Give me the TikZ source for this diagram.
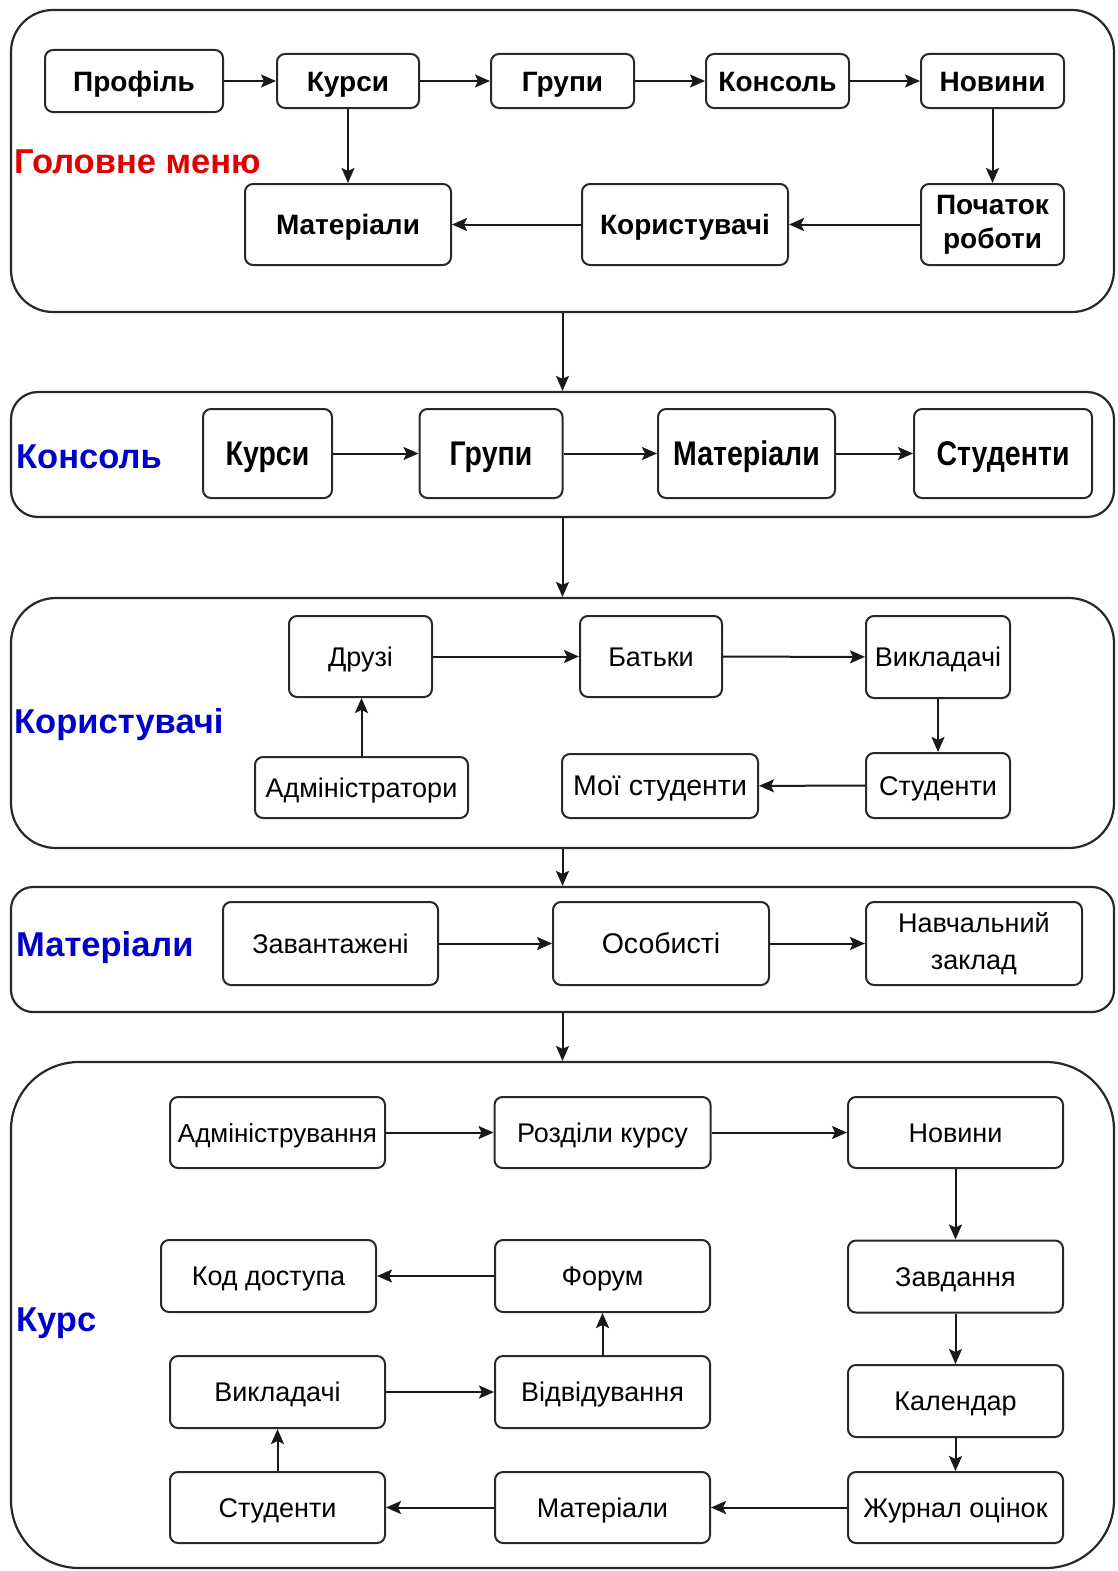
\documentclass[tikz,border=0pt]{standalone}
\usepackage{fontspec}
\setmainfont{Liberation Sans}
\usepackage{graphicx}
\usetikzlibrary{arrows.meta}
\definecolor{lblue}{RGB}{0,0,204}
\definecolor{lred}{RGB}{224,0,0}
\definecolor{edgec}{RGB}{40,40,40}
\newcommand{\tallt}[1]{\scalebox{1}[1.2]{#1}}
\begin{document}
\begin{tikzpicture}[x=1pt,y=-1pt,
  outer/.style={draw=edgec, line width=2.2pt, inner sep=0pt},
  bx/.style={draw=edgec, line width=2pt, rounded corners=8pt, inner sep=0pt, align=center},
  bb/.style={bx, font=\fontsize{28}{34}\selectfont\bfseries},
  bb1/.style={bb, text height=20pt, text depth=0pt},
  bb2/.style={bx, font=\fontsize{28.5}{34}\selectfont\bfseries, text height=24.5pt, text depth=0pt},
  br/.style={bx, font=\fontsize{27}{37}\selectfont},
  br1/.style={br, text height=19.3pt, text depth=0pt},
  lbl/.style={anchor=west, inner sep=0pt, font=\fontsize{34.5}{38}\selectfont\bfseries},
  arr/.style={draw=black!90, line width=2pt, -{Stealth[length=15pt, width=13pt, inset=3pt]}}]
\useasboundingbox (0,0) rectangle (1117,1571);

% ---------- outer sections ----------
\node[outer, rounded corners=42pt, minimum width=1103pt, minimum height=302pt] (s1) at (562.5,161) {};
\node[outer, rounded corners=27pt, minimum width=1103pt, minimum height=125pt] (s2) at (562.5,454.5) {};
\node[outer, rounded corners=45pt, minimum width=1103pt, minimum height=250pt] (s3) at (562.5,723) {};
\node[outer, rounded corners=22pt, minimum width=1103pt, minimum height=125pt] (s4) at (562.5,949.5) {};
\node[outer, rounded corners=68pt, minimum width=1103pt, minimum height=506pt] (s5) at (562.5,1315) {};

\draw[arr] (s1.south) -- (s2.north);
\draw[arr] (s2.south) -- (s3.north);
\draw[arr] (s3.south) -- (s4.north);
\draw[arr] (s4.south) -- (s5.north);

% ---------- section 1 ----------
\node[lbl, text=lred] (l1) at (14,162) {Головне меню};
\node[bb1, minimum width=178pt, minimum height=62pt] (a1) at (134,81) {Профіль};
\node[bb1, minimum width=142pt, minimum height=54pt] (a2) at (348,81) {Курси};
\node[bb1, minimum width=143pt, minimum height=54pt] (a3) at (562.5,81) {Групи};
\node[bb1, minimum width=143pt, minimum height=54pt] (a4) at (777.5,81) {Консоль};
\node[bb1, minimum width=143pt, minimum height=54pt] (a5) at (992.5,81) {Новини};
\node[bb, minimum width=143pt, minimum height=81pt] (a6) at (992.5,224.5) {Початок\\роботи};
\node[bb1, minimum width=206pt, minimum height=81pt] (a7) at (685,224.5) {Користувачі};
\node[bb1, minimum width=206pt, minimum height=81pt] (a8) at (348,224.5) {Матеріали};
\draw[arr] (a1) -- (a2);
\draw[arr] (a2) -- (a3);
\draw[arr] (a3) -- (a4);
\draw[arr] (a4) -- (a5);
\draw[arr] (a5) -- (a6);
\draw[arr] (a6) -- (a7);
\draw[arr] (a7) -- (a8);
\draw[arr] (a2) -- (a8);

% ---------- section 2 ----------
\node[lbl, text=lblue] (l2) at (16,457) {Консоль};
\node[bb2, minimum width=129pt, minimum height=89pt] (b1) at (267.5,453.5) {\tallt{Курси}};
\node[bb2, minimum width=143pt, minimum height=89pt] (b2) at (491,453.5) {\tallt{Групи}};
\node[bb2, minimum width=177pt, minimum height=89pt] (b3) at (746.5,453.5) {\tallt{Матеріали}};
\node[bb2, minimum width=178pt, minimum height=89pt] (b4) at (1003,453.5) {\tallt{Студенти}};
\draw[arr] (b1) -- (b2);
\draw[arr] (b2) -- (b3);
\draw[arr] (b3) -- (b4);

% ---------- section 3 ----------
\node[lbl, text=lblue] (l3) at (14,725) {Користувачі};
\node[br1, minimum width=143pt, minimum height=81pt] (c1) at (360.5,656.5) {Друзі};
\node[br1, minimum width=142pt, minimum height=81pt] (c2) at (651,656.5) {Батьки};
\node[br1, minimum width=144pt, minimum height=82pt] (c3) at (938,657) {Викладачі};
\node[br1, minimum width=213pt, minimum height=61pt] (c4) at (361.5,787.5) {Адміністратори};
\node[br1, minimum width=196pt, minimum height=64pt, font=\fontsize{28.5}{37}\selectfont] (c5) at (660,786) {Мої студенти};
\node[br1, minimum width=144pt, minimum height=65pt] (c6) at (938,785.5) {Студенти};
\draw[arr] (c4.north) -- (c4.north |- c1.south);
\draw[arr] (c1) -- (c2);
\draw[arr] (c2) -- (c3);
\draw[arr] (c3) -- (c6);
\draw[arr] (c6) -- (c5);

% ---------- section 4 ----------
\node[lbl, text=lblue] (l4) at (16,948) {Матеріали};
\node[br1, minimum width=215pt, minimum height=83pt] (d1) at (330.5,943.5) {Завантажені};
\node[br1, minimum width=216pt, minimum height=83pt, font=\fontsize{28.5}{37}\selectfont] (d2) at (661,943.5) {Особисті};
\node[br, minimum width=216pt, minimum height=83pt] (d3) at (974,943.5) {Навчальний\\заклад};
\draw[arr] (d1) -- (d2);
\draw[arr] (d2) -- (d3);

% ---------- section 5 ----------
\node[lbl, text=lblue] (l5) at (16,1323) {Курс};
\node[br1, minimum width=215pt, minimum height=71pt, font=\fontsize{26}{37}\selectfont] (e1) at (277.5,1132.5) {Адміністрування};
\node[br1, minimum width=216pt, minimum height=71pt] (e2) at (602.5,1132.5) {Розділи курсу};
\node[br1, minimum width=215pt, minimum height=71pt] (e3) at (955.5,1132.5) {Новини};
\node[br1, minimum width=215pt, minimum height=72pt] (e4) at (955.5,1276.5) {Завдання};
\node[br1, minimum width=215pt, minimum height=72pt] (e5) at (955.5,1401) {Календар};
\node[br1, minimum width=215pt, minimum height=71pt] (e6) at (955.5,1507.5) {Журнал оцінок};
\node[br1, minimum width=215pt, minimum height=71pt] (e7) at (602.5,1507.5) {Матеріали};
\node[br1, minimum width=215pt, minimum height=71pt] (e8) at (277.5,1507.5) {Студенти};
\node[br1, minimum width=215pt, minimum height=72pt] (e9) at (277.5,1392) {Викладачі};
\node[br1, minimum width=215pt, minimum height=72pt] (e10) at (602.5,1392) {Відвідування};
\node[br1, minimum width=215pt, minimum height=72pt] (e11) at (602.5,1276) {Форум};
\node[br1, minimum width=215pt, minimum height=72pt] (e12) at (268.5,1276) {Код доступа};
\draw[arr] (e1) -- (e2);
\draw[arr] (e2) -- (e3);
\draw[arr] (e3) -- (e4);
\draw[arr] (e4) -- (e5);
\draw[arr] (e5) -- (e6);
\draw[arr] (e6) -- (e7);
\draw[arr] (e7) -- (e8);
\draw[arr] (e8) -- (e9);
\draw[arr] (e9) -- (e10);
\draw[arr] (e10) -- (e11);
\draw[arr] (e11) -- (e12);
\end{tikzpicture}
\end{document}
